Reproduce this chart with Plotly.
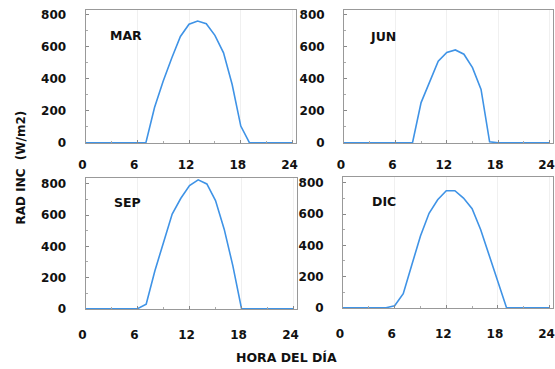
import plotly.graph_objects as go

# ---- data (W/m2 by hour of day) ----
hours_mar = [0, 7, 8, 9, 10, 11, 12, 13, 14, 15, 16, 17, 18, 19, 24]
rad_mar = [0, 0, 220, 385, 530, 665, 742, 762, 745, 672, 563, 364, 104, 0, 0]

hours_jun = [0, 8, 9, 10, 11, 12, 13, 14, 15, 16, 17, 18, 24]
rad_jun = [0, 0, 251, 385, 510, 565, 581, 554, 470, 334, 5, 0, 0]

hours_sep = [0, 6, 7, 8, 9, 10, 11, 12, 13, 14, 15, 16, 17, 18, 24]
rad_sep = [0, 0, 28, 242, 425, 607, 708, 789, 826, 800, 693, 510, 275, 0, 0]

hours_dic = [0, 5, 6, 7, 8, 9, 10, 11, 12, 13, 14, 15, 16, 17, 18, 19, 24]
rad_dic = [0, 0, 12, 90, 275, 460, 605, 692, 750, 750, 703, 635, 500, 330, 160, 0, 0]

panel_labels = ["MAR", "JUN", "SEP", "DIC"]
x_ticks = [0, 6, 12, 18, 24]
y_ticks = [0, 200, 400, 600, 800]

W, H = 555, 369


def fx(px):
    return px / W


def fy(py):
    return 1 - py / H


LINE = "#3f93e6"
FONT = dict(family="DejaVu Sans", size=12, color="#111111", weight="bold")

# plot-area boxes in screen pixels: (left, right, top, bottom)
boxes = [(85.5, 296, 10, 143), (344, 553, 10, 143),
         (85.5, 297, 178, 309), (343, 553, 177, 308)]
y_tops = [831, 831, 838, 838]
label_pos = [(0.192, 0.805), (0.187, 0.797), (0.198, 0.815), (0.195, 0.81)]
x_standoff = [11, 11, 15, 15]

series = [(hours_mar, rad_mar), (hours_jun, rad_jun),
          (hours_sep, rad_sep), (hours_dic, rad_dic)]

fig = go.Figure()
for i, ((hx, hy), (l, r, t, b)) in enumerate(zip(series, boxes)):
    n = "" if i == 0 else str(i + 1)
    fig.add_trace(go.Scatter(x=hx, y=hy, mode="lines",
                             line=dict(color=LINE, width=1.6),
                             xaxis="x" + n, yaxis="y" + n,
                             showlegend=False, hoverinfo="skip"))
    fig.layout["xaxis" + n] = dict(
        domain=[fx(l), fx(r)], anchor="y" + n, range=[0, 24.4],
        tickvals=x_ticks, ticktext=[str(v) for v in x_ticks],
        ticks="inside", ticklen=3, tickcolor="#888",
        showline=True, linecolor="#999", linewidth=1, mirror=True,
        showgrid=True, gridcolor="#f0f0f0", gridwidth=1,
        zeroline=False, tickfont=FONT, ticklabelstandoff=x_standoff[i],
        ticklabelshift=-3, automargin=False,
        minor=dict(dtick=3, ticks="inside", ticklen=2, tickcolor="#aaa", showgrid=False),
        fixedrange=True)
    fig.layout["yaxis" + n] = dict(
        domain=[fy(b), fy(t)], anchor="x" + n, range=[-2, y_tops[i]],
        tickvals=y_ticks, ticktext=[str(v) for v in y_ticks],
        ticks="inside", ticklen=3, tickcolor="#888",
        showline=True, linecolor="#999", linewidth=1, mirror=True,
        showgrid=False, zeroline=False, tickfont=FONT, ticklabelstandoff=16,
        automargin=False,
        minor=dict(dtick=100, ticks="inside", ticklen=2, tickcolor="#aaa"),
        fixedrange=True)
    fig.add_annotation(text=panel_labels[i], xref="x" + n + " domain", yref="y" + n + " domain",
                       x=label_pos[i][0], y=label_pos[i][1], showarrow=False,
                       xanchor="center", yanchor="middle",
                       font=dict(family="DejaVu Sans", size=12.5, color="#111", weight="bold"))

fig.add_annotation(text="HORA DEL DÍA", xref="paper", yref="paper",
                   x=fx(286.5), y=fy(357), showarrow=False,
                   xanchor="center", yanchor="middle",
                   font=dict(family="DejaVu Sans", size=12.5, color="#111", weight="bold"))
fig.add_annotation(text="RAD INC  (W/m2)", xref="paper", yref="paper",
                   x=fx(20), y=fy(167.5), showarrow=False, textangle=-90,
                   xanchor="center", yanchor="middle",
                   font=dict(family="DejaVu Sans", size=12, color="#111", weight="bold"))

fig.update_layout(width=W, height=H, margin=dict(l=0, r=0, t=0, b=0),
                  paper_bgcolor="white", plot_bgcolor="white")

# remove the browser's default page margin so the figure sits at (0, 0)
fig.write_html("out.html", config={"displayModeBar": False},
               post_script="document.body.style.margin='0';document.body.style.overflow='hidden';")
